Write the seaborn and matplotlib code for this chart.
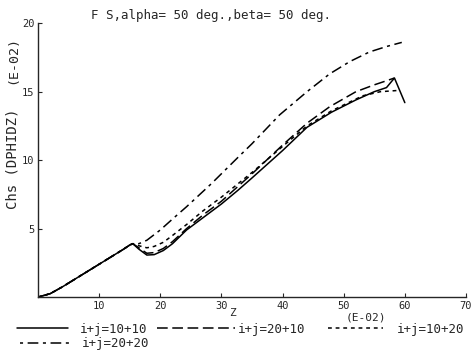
import matplotlib
matplotlib.use("Agg")
import matplotlib.pyplot as plt
import seaborn as sns
import pandas as pd

# shared rising part (all series coincide)
z_common = [0, 2, 4, 6, 8, 10, 12, 14, 15, 15.5]
v_common = [0, 0.25, 0.75, 1.3, 1.85, 2.4, 2.95, 3.5, 3.8, 3.9]

z_1010 = [16.5, 17.8, 19, 20.5, 22, 24.3, 27, 30, 32.7, 35, 40, 44, 48, 52, 55, 57, 58.3, 60]
v_1010 = [3.5, 3.07, 3.1, 3.4, 3.9, 4.9, 5.8, 6.8, 7.8, 8.7, 10.7, 12.4, 13.5, 14.4, 15.0, 15.3, 16.0, 14.2]

z_2010 = [16.5, 17.8, 19, 20.5, 22, 24.3, 27, 30, 35, 40, 44, 47.7, 52, 55, 57, 58.3]
v_2010 = [3.6, 3.2, 3.25, 3.55, 4.05, 5.0, 6.0, 7.0, 9.0, 11.1, 12.7, 13.9, 15.0, 15.5, 15.8, 16.0]

z_1020 = [16.5, 17.8, 19, 20.5, 22, 24.3, 27, 30, 35, 40, 44, 48, 53.1, 56, 59.2]
v_1020 = [3.75, 3.6, 3.7, 4.0, 4.5, 5.3, 6.3, 7.3, 9.1, 11.0, 12.5, 13.6, 14.7, 15.0, 15.1]

z_2020 = [16.5, 17.8, 20, 22, 24.3, 28.4, 32.7, 35, 39.5, 44, 47.7, 51, 54.2, 57, 59.5]
v_2020 = [3.9, 4.15, 4.9, 5.7, 6.6, 8.3, 10.2, 11.2, 13.3, 15.0, 16.3, 17.2, 17.9, 18.3, 18.6]

labels = ["i+j=10+10", "i+j=20+10", "i+j=10+20", "i+j=20+20"]
series = [(z_1010, v_1010), (z_2010, v_2010), (z_1020, v_1020), (z_2020, v_2020)]

x_ticks = [10, 20, 30, 40, 50, 60, 70]
y_ticks = [5, 10, 15, 20]

rows = []
for lab, (zs, vs) in zip(labels, series):
    for z, v in zip(z_common + zs, v_common + vs):
        rows.append({"Z": z, "v": v, "case": lab})
df = pd.DataFrame(rows)

sns.set_style("ticks")
plt.rcParams["font.family"] = ["DejaVu Sans Mono", "DejaVu Sans"]

W, H = 475, 352
fig = plt.figure(figsize=(W / 100, H / 100), dpi=100)
ax = fig.add_axes([0.080, 0.156, 0.901, 0.778])

dashes = {
    "i+j=10+10": "",
    "i+j=20+10": (7, 3),
    "i+j=10+20": (2.5, 2.5),
    "i+j=20+20": (2, 3, 7, 3),
}
sns.lineplot(data=df, x="Z", y="v", style="case", style_order=labels, dashes=dashes,
             color="black", linewidth=1.1, estimator=None, sort=False, ax=ax, legend=False)

ax.set_xlim(0, 70)
ax.set_ylim(0, 20)
ax.set_xticks(x_ticks)
ax.set_yticks(y_ticks)
ax.tick_params(axis="both", direction="in", length=3, width=0.8, labelsize=7.5, pad=2.5)
for s in ["top", "right"]:
    ax.spines[s].set_visible(False)
for s in ["left", "bottom"]:
    ax.spines[s].set_linewidth(1.0)
ax.set_xlabel("")
ax.set_ylabel("")

fig.text(211 / W, 1 - 15 / H, "F S,alpha= 50 deg.,beta= 50 deg.", ha="center", va="center", fontsize=9)
fig.text(13 / W, 0.55, "Chs (DPHIDZ)", rotation=90, ha="center", va="center", fontsize=10)
fig.text(13 / W, 1 - 60 / H, "(E-02)", rotation=90, ha="center", va="center", fontsize=9.5)
fig.text(233 / W, 1 - 313 / H, "Z", ha="center", va="center", fontsize=8)
fig.text(366 / W, 1 - 318 / H, "(E-02)", ha="center", va="center", fontsize=8)

h = ax.get_lines()[:4]
# (handle start x px, row y px, handle length px, pad px)
leg_pos = [(17, 329, 51, 12), (157, 329, 78, 3), (328, 329, 55, 14), (20, 344, 50, 12)]
fs = 9
px_per_em = fs * 100 / 72
for line, lab, (x0, y0, hl, pad) in zip(h, labels, leg_pos):
    fig.legend([line], [lab], loc="center left", bbox_to_anchor=(x0 / W, 1 - y0 / H),
               frameon=False, fontsize=fs, borderpad=0, borderaxespad=0,
               handlelength=hl / px_per_em, handletextpad=pad / px_per_em)

fig.savefig("out.png", dpi=100)
